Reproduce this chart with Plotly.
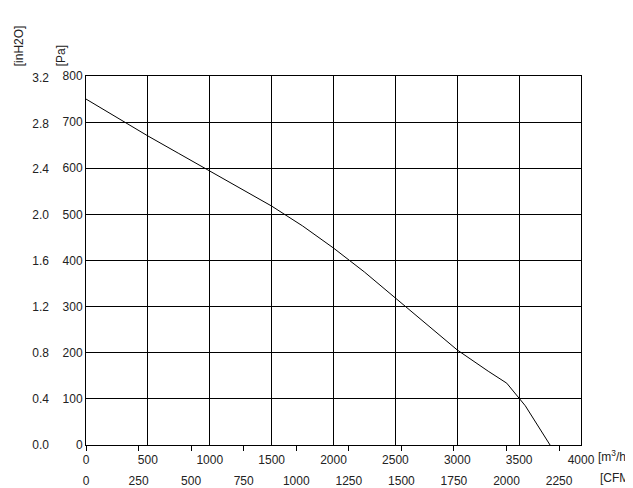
import plotly.graph_objects as go

flow_m3h = [0, 250, 500, 750, 1000, 1250, 1500, 1750, 2000, 2250, 2500, 2750, 3000, 3250, 3400, 3550, 3750]
pressure_pa = [750, 710, 670, 632, 594, 557, 518, 475, 427, 375, 319, 262, 206, 160, 134, 85, 0]
pa_ticks = list(range(0, 801, 100))
inh2o_ticks = [0.0, 0.4, 0.8, 1.2, 1.6, 2.0, 2.4, 2.8, 3.2]
m3h_ticks = list(range(0, 4001, 500))
cfm_ticks = list(range(0, 2251, 250))

F = dict(family="Liberation Sans, Arial", size=12, color="#222")
fig = go.Figure()
fig.add_trace(go.Scatter(x=flow_m3h, y=pressure_pa, mode="lines",
                         line=dict(color="black", width=1), showlegend=False))
fig.add_trace(go.Scatter(x=[0], y=[0], xaxis="x2", yaxis="y2", mode="markers",
                         marker=dict(opacity=0), showlegend=False, hoverinfo="skip"))
fig.update_layout(
    width=633, height=488, margin=dict(l=78, r=60, t=68, b=51),
    plot_bgcolor="white", paper_bgcolor="white", font=F,
    xaxis=dict(range=[0, 4000], tickvals=m3h_ticks, showgrid=True, gridcolor="black",
               gridwidth=1, showline=True, linecolor="black", mirror=True, automargin=False,
               ticks="", ticklabelstandoff=4, zeroline=False),
    yaxis=dict(range=[0, 800], tickvals=pa_ticks, showgrid=True, gridcolor="black",
               showline=True, linecolor="black", mirror=True, ticks="", zeroline=False,
               automargin=False),
    xaxis2=dict(range=[0, 4000 / 1.699], tickvals=cfm_ticks, overlaying="x", anchor="y",
                side="bottom", ticks="outside", ticklen=5, tickcolor="black", automargin=False,
                ticklabelstandoff=20, showgrid=False, zeroline=False),
    yaxis2=dict(range=[0, 800 / 249.09], tickvals=inh2o_ticks, tickformat=".1f",
                overlaying="y", anchor="x", side="left", ticks="", ticklabelstandoff=36,
                showgrid=False, zeroline=False, automargin=False),
    annotations=[
        dict(text="[inH2O]", xref="paper", yref="paper", x=-0.135, y=1.02, textangle=-90,
             showarrow=False, xanchor="center", yanchor="bottom", font=F),
        dict(text="[Pa]", xref="paper", yref="paper", x=-0.05, y=1.02, textangle=-90,
             showarrow=False, xanchor="center", yanchor="bottom", font=F),
        dict(text="[m<sup>3</sup>/h]", xref="paper", yref="paper", x=1.03, y=-0.03,
             showarrow=False, xanchor="left", yanchor="middle", font=F),
        dict(text="[CFM]", xref="paper", yref="paper", x=1.035, y=-0.09,
             showarrow=False, xanchor="left", yanchor="middle", font=F),
    ],
)
fig.write_html("out.html")
